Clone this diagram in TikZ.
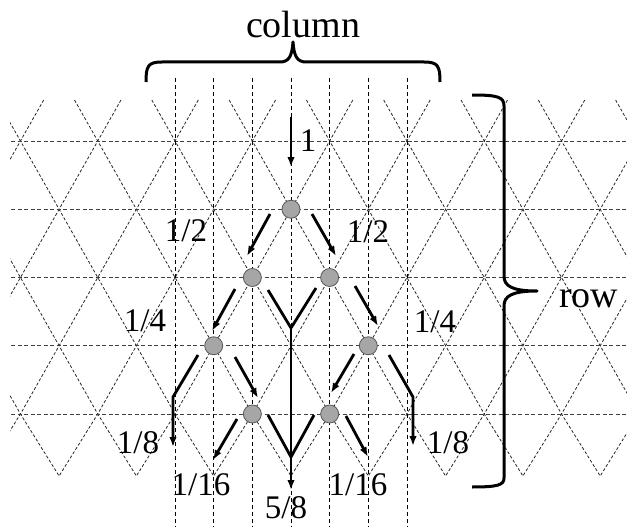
\documentclass[tikz,border=0pt]{standalone}
\usepackage{fontspec}
\setmainfont{Liberation Serif}
\usetikzlibrary{arrows.meta}
\begin{document}
\begin{tikzpicture}[x=1pt,y=-1pt,
  latt/.style={black!85, line width=0.8pt, dash pattern=on 3pt off 2pt},
  hline/.style={black!75, line width=1pt, dash pattern=on 4pt off 2.5pt},
  vline/.style={black, line width=0.8pt, dash pattern=on 4pt off 3pt},
  site/.style={circle, draw=black!65, line width=0.8pt, fill=black!35, minimum size=18pt, inner sep=0pt},
  flow/.style={line width=2.8pt, line join=miter, -{Latex[length=10pt,width=7.5pt]}},
  bar/.style={line width=2.8pt, line join=miter},
  frac/.style={font=\fontsize{33}{33}\selectfont, inner sep=0pt},
  big/.style={font=\fontsize{38}{38}\selectfont, inner sep=0pt},
  brace/.style={line width=3pt, line join=round}
]
\useasboundingbox (0,0) rectangle (627,527);

% triangular lattice
\begin{scope}
\clip (10,95) rectangle (627,490);
\foreach \i in {-7,...,7}{
  \pgfmathsetmacro{\xo}{291+77.3*(\i+0.5)}
  \draw[latt] (\xo-23.22,100) -- (\xo+154.6,414) -- (\xo+193.25,476);
  \draw[latt] (\xo+23.22,100) -- (\xo-154.6,414) -- (\xo-193.25,476);
}
\foreach \y in {141,209.25,277.5,345.75,414}
  \draw[hline] (11,\y) -- (627,\y);
\end{scope}
\foreach \j in {-3,...,3}
  \draw[vline] ({291+38.65*\j},78) -- ({291+38.65*\j},527);

% sites
\node[site] (a) at (291,209.25) {};
\node[site] (b) at (252.35,277.5) {};
\node[site] (c) at (329.65,277.5) {};
\node[site] (d) at (213.7,345.75) {};
\node[site] (e) at (368.3,345.75) {};
\node[site] (f) at (252.35,414) {};
\node[site] (g) at (329.65,414) {};

% arrow end points
\coordinate (s0) at (291,117);  \coordinate (t0) at (291,167);
\coordinate (a1) at (270,214);  \coordinate (a2) at (247,256);
\coordinate (a3) at (312,214);  \coordinate (a4) at (336,256);
\coordinate (b1) at (235,289);  \coordinate (b2) at (212,331);
\coordinate (c1) at (355,286);  \coordinate (c2) at (378,326);
\coordinate (y1l) at (268,290); \coordinate (y1r) at (316,288); \coordinate (y1) at (291,328);
\coordinate (y2l) at (268,415); \coordinate (y2r) at (314,415); \coordinate (y2) at (291,457);
\coordinate (ybot) at (291,490);
\coordinate (d1) at (198,355);  \coordinate (d2) at (173,397); \coordinate (d3) at (173,447);
\coordinate (d4) at (235,357);  \coordinate (d5) at (258,398);
\coordinate (e1) at (354,354);  \coordinate (e2) at (331,393);
\coordinate (e3) at (389,355);  \coordinate (e4) at (413,397); \coordinate (e5) at (413,446);
\coordinate (f1) at (237,419);  \coordinate (f2) at (213,460);
\coordinate (g1) at (346,416);  \coordinate (g2) at (368,457);

\draw[flow] (s0) -- (t0);
\draw[flow] (a1) -- (a2);
\draw[flow] (a3) -- (a4);
\draw[flow] (b1) -- (b2);
\draw[flow] (c1) -- (c2);
\draw[bar] (y1l) -- (y1) -- (y1r);
\draw[bar] (y2l) -- (y2) -- (y2r);
\draw[flow] (y1) -- (ybot);
\draw[flow] (d1) -- (d2) -- (d3);
\draw[flow] (d4) -- (d5);
\draw[flow] (e1) -- (e2);
\draw[flow] (e3) -- (e4) -- (e5);
\draw[flow] (f1) -- (f2);
\draw[flow] (g1) -- (g2);

% labels
\node[frac] (l1) at (308,141) {1};
\node[frac] (l2a) at (186,231) {1/2};
\node[frac] (l2b) at (368,232) {1/2};
\node[frac] (l4a) at (145,321) {1/4};
\node[frac] (l4b) at (435,322) {1/4};
\node[frac] (l8a) at (138,443) {1/8};
\node[frac] (l8b) at (448,443) {1/8};
\node[frac] (l16a) at (201,485) {1/16};
\node[frac] (l16b) at (358,485) {1/16};
\node[frac] (l58) at (286,508) {5/8};

% braces
\draw[brace] (146,82) .. controls (146,66) and (148,62) .. (162,62) -- (280,62)
  .. controls (289,62) and (292,56) .. (293,42)
  .. controls (294,56) and (297,62) .. (306,62) -- (424,62)
  .. controls (438,62) and (440,66) .. (440,82);
\node[big, anchor=base] (col) at (303,38) {column};

\draw[brace] (472,95) .. controls (498,95) and (504,97) .. (504,106) -- (504,276)
  .. controls (504,286) and (512,291) .. (537,291)
  .. controls (512,291) and (504,296) .. (504,306) -- (504,478)
  .. controls (504,485) and (498,487) .. (472,487);
\node[big, anchor=base west] (row) at (559,307) {row};
\end{tikzpicture}
\end{document}
